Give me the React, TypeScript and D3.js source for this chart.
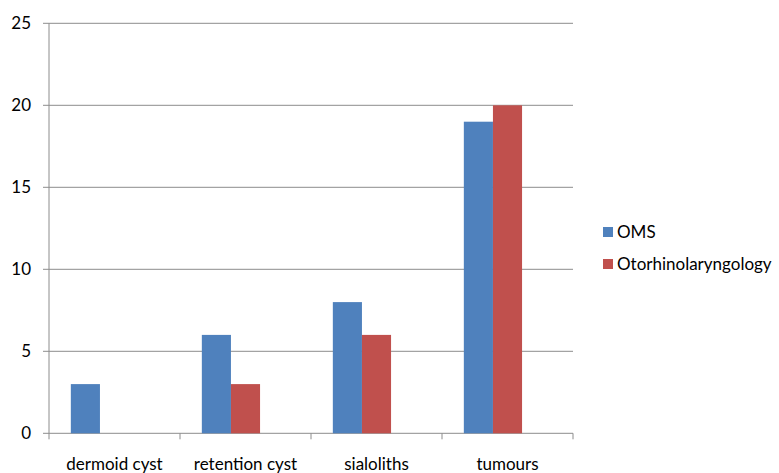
import React from "react";
import * as d3 from "d3";

const categories = ["dermoid cyst", "retention cyst", "sialoliths", "tumours"];
const seriesNames = ["OMS", "Otorhinolaryngology"];
const omsValues = [3, 6, 8, 19];
const otoValues = [0, 3, 6, 20];
const yTicks = [0, 5, 10, 15, 20, 25];
const colors = ["#4F81BD", "#C0504D"];

const W = 779;
const H = 473;
const FONT = "Lato, 'Open Sans', sans-serif";

export default function App() {
  const left = 49;
  const right = 573;
  const top = 23.3;
  const bottom = 433.3;

  const x = d3.scaleBand<string>().domain(categories).range([left, right]).paddingInner(0).paddingOuter(0);
  const y = d3.scaleLinear().domain([0, 25]).range([bottom, top]);

  // Clustered columns: three slots per category with a 150% gap, third slot unused
  const bw = x.bandwidth() / 4.5;
  const offset = 0.75 * bw;

  const series = [omsValues, otoValues];

  return (
    <svg
      width={W}
      height={H}
      style={{ position: "absolute", left: 0, top: 0, background: "#fff" }}
      fontFamily={FONT}
    >
      {yTicks.map((t) => (
        <g key={t}>
          <line x1={left - 6} x2={right} y1={y(t)} y2={y(t)} stroke="#8c8c8c" strokeWidth={1} />
          <text x={31} y={y(t)} dy="0.35em" textAnchor="end" fontSize={17} fill="#000">
            {t}
          </text>
        </g>
      ))}
      <line x1={left} x2={left} y1={top} y2={bottom} stroke="#8c8c8c" strokeWidth={1} />
      {[...categories.map((c) => x(c) as number), right].map((px, i) => (
        <line key={i} x1={px} x2={px} y1={bottom} y2={bottom + 6} stroke="#8c8c8c" strokeWidth={1} />
      ))}
      {series.map((vals, si) =>
        vals.map((v, ci) =>
          v > 0 ? (
            <rect
              key={`${si}-${ci}`}
              x={(x(categories[ci]) as number) + offset + si * bw}
              y={y(v)}
              width={bw}
              height={y(0) - y(v)}
              fill={colors[si]}
            />
          ) : null
        )
      )}
      {categories.map((c) => (
        <text
          key={c}
          x={(x(c) as number) + x.bandwidth() / 2}
          y={470}
          textAnchor="middle"
          fontSize={17}
          fill="#000"
        >
          {c}
        </text>
      ))}
      {seriesNames.map((n, i) => (
        <g key={n} transform={`translate(603, ${227 + i * 32})`}>
          <rect x={0} y={0} width={10} height={10} fill={colors[i]} />
          <text x={14} y={5} dy="0.35em" fontSize={17} fill="#000">
            {n}
          </text>
        </g>
      ))}
    </svg>
  );
}
